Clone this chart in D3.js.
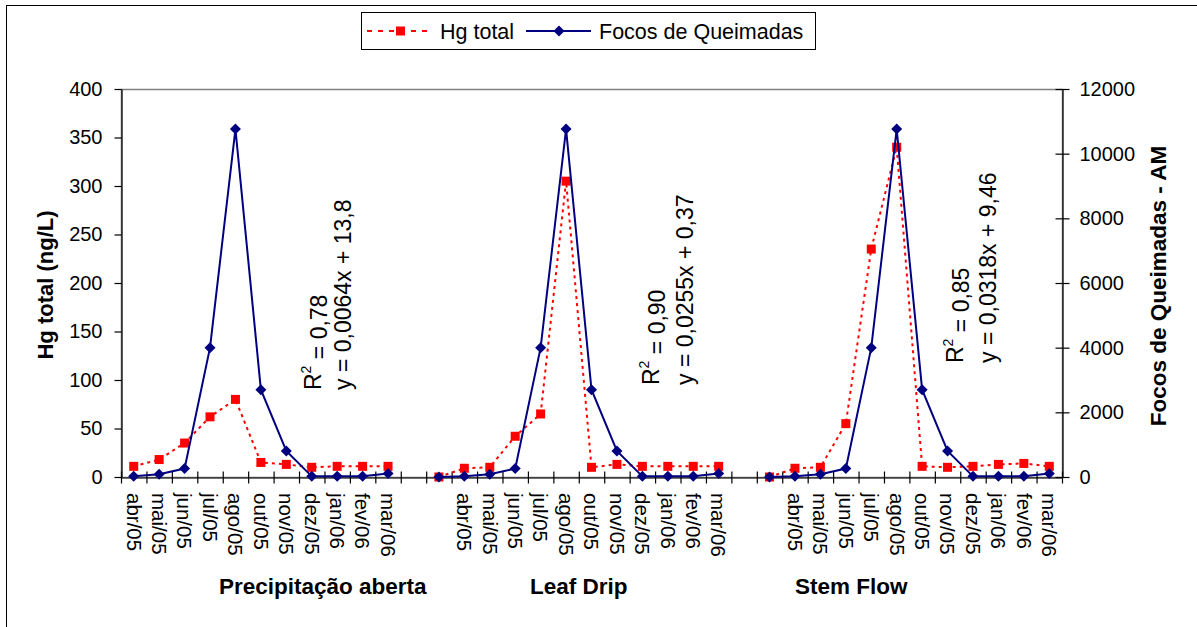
<!DOCTYPE html>
<html>
<head>
<meta charset="utf-8">
<script src="https://cdn.jsdelivr.net/npm/d3@7"></script>
<style>
  body { margin: 0; background: #fff; }
  svg text { font-family: "Liberation Sans", Arial, sans-serif; fill: #000; }
</style>
</head>
<body>
<div id="chart"></div>
<script>
// categories: three groups of months separated by blank slots
var months = ["abr/05","mai/05","jun/05","jul/05","ago/05","out/05","nov/05","dez/05","jan/06","fev/06","mar/06"];
var categories = months.concat(["", ""], months, ["", ""], months);

var groupNames = ["Precipitação aberta", "Leaf Drip", "Stem Flow"];

// Hg total (ng/L) - null = gap between groups
var hgTotal = [11, 18, 35, 62, 80, 15, 13, 10, 11, 11, 11,
  null, 0, 9, 10, 42, 65, 305, 10, 13, 11, 11, 11, 11,
  null, 0, 9, 10, 55, 235, 340, 11, 10, 11, 13, 14, 11];

// Focos de Queimadas - AM
var focos = [20, 85, 260, 4000, 10760, 2700, 805, 20, 20, 20, 105,
  null, 0, 20, 85, 260, 4000, 10760, 2700, 805, 20, 20, 20, 105,
  null, 0, 20, 85, 260, 4000, 10760, 2700, 805, 20, 20, 20, 105];

var leftTicks = [0, 50, 100, 150, 200, 250, 300, 350, 400];
var rightTicks = [0, 2000, 4000, 6000, 8000, 10000, 12000];

var trendR2 = ["0,78", "0,90", "0,85"];
var trendEq = ["y = 0,0064x + 13,8", "y = 0,0255x + 0,37", "y = 0,0318x + 9,46"];

var W = 1197, H = 627;
var plot = {left: 121, right: 1062, top: 89, bottom: 477};

var svg = d3.select("#chart").append("svg")
  .attr("width", W)
  .attr("height", H);

// outer chart border (continues past the right/bottom edge)
svg.append("rect")
  .attr("x", 6.5).attr("y", 5.5)
  .attr("width", 1300).attr("height", 800)
  .attr("fill", "none").attr("stroke", "#000");

var x = d3.scaleBand()
  .domain(d3.range(categories.length))
  .range([plot.left, plot.right])
  .padding(0);
var xEdge = d3.scaleLinear()
  .domain([0, categories.length])
  .range([plot.left, plot.right]);

var yL = d3.scaleLinear().domain([0, 400]).range([plot.bottom, plot.top]);
var yR = d3.scaleLinear().domain([0, 12000]).range([plot.bottom, plot.top]);

function cx(i) { return x(i) + x.bandwidth() / 2; }

// plot area frame (gray)
svg.append("rect")
  .attr("x", plot.left + 0.5).attr("y", plot.top + 0.5)
  .attr("width", plot.right - plot.left).attr("height", plot.bottom - plot.top)
  .attr("fill", "none").attr("stroke", "#808080").attr("stroke-width", 1.5);

// left axis
var gL = svg.append("g")
  .attr("transform", "translate(" + (plot.left + 0.5) + ",0)")
  .call(d3.axisLeft(yL).tickValues(leftTicks).tickSize(7).tickSizeOuter(0).tickPadding(12));
gL.selectAll("text").attr("font-size", 20).attr("font-family", null);

// right axis
var gR = svg.append("g")
  .attr("transform", "translate(" + (plot.right + 0.5) + ",0)")
  .call(d3.axisRight(yR).tickValues(rightTicks).tickFormat(d3.format("d")).tickSize(7).tickSizeOuter(0).tickPadding(10));
gR.selectAll(".tick line").attr("x1", -7);
gR.selectAll("text").attr("font-size", 20).attr("font-family", null);

// bottom axis: ticks between categories, crossing the line
var gB = svg.append("g")
  .attr("transform", "translate(0," + (plot.bottom + 0.5) + ")")
  .call(d3.axisBottom(xEdge).tickValues(d3.range(categories.length + 1)).tickFormat("").tickSize(6).tickSizeOuter(0));
gB.selectAll(".tick line").attr("y1", -6);

[gL, gR, gB].forEach(function(g) {
  g.selectAll("path, line").attr("stroke", "#000").attr("stroke-width", 1.2);
});

// category labels rotated
svg.append("g").selectAll("text")
  .data(categories)
  .enter().append("text")
  .attr("transform", function(d, i) { return "translate(" + cx(i) + ",493) rotate(90)"; })
  .attr("dy", "0.35em")
  .attr("font-size", 20.5)
  .text(function(d) { return d; });

// group names
var groupX = [219, 530, 795];
svg.append("g").selectAll("text")
  .data(groupNames)
  .enter().append("text")
  .attr("x", function(d, i) { return groupX[i]; })
  .attr("y", 594)
  .attr("font-size", 22.5)
  .attr("font-weight", "bold")
  .text(function(d) { return d; });

// axis titles
svg.append("text")
  .attr("transform", "translate(53,285) rotate(-90)")
  .attr("text-anchor", "middle")
  .attr("font-size", 22)
  .attr("font-weight", "bold")
  .text("Hg total (ng/L)");

svg.append("text")
  .attr("transform", "translate(1166,286) rotate(-90)")
  .attr("text-anchor", "middle")
  .attr("font-size", 22.5)
  .attr("font-weight", "bold")
  .text("Focos de Queimadas - AM");

// Hg total series (red dashed + squares)
var hgLine = d3.line()
  .defined(function(d) { return d != null; })
  .x(function(d, i) { return cx(i); })
  .y(function(d) { return yL(d); });

svg.append("path")
  .datum(hgTotal)
  .attr("d", hgLine)
  .attr("fill", "none")
  .attr("stroke", "#ff0000")
  .attr("stroke-width", 2)
  .attr("stroke-dasharray", "3,4");

var sq = 9;
svg.append("g").selectAll("rect")
  .data(hgTotal.map(function(v, i) { return {v: v, i: i}; }).filter(function(d) { return d.v != null; }))
  .enter().append("rect")
  .attr("x", function(d) { return cx(d.i) - sq / 2; })
  .attr("y", function(d) { return yL(d.v) - sq / 2; })
  .attr("width", sq).attr("height", sq)
  .attr("fill", "#ff0000");

// Focos series (navy solid + diamonds)
var focoLine = d3.line()
  .defined(function(d) { return d != null; })
  .x(function(d, i) { return cx(i); })
  .y(function(d) { return yR(d); });

svg.append("path")
  .datum(focos)
  .attr("d", focoLine)
  .attr("fill", "none")
  .attr("stroke", "#000080")
  .attr("stroke-width", 2);

var dm = 5.5;
function diamond(px, py) {
  return "M" + px + "," + (py - dm) + "L" + (px + dm) + "," + py + "L" + px + "," + (py + dm) + "L" + (px - dm) + "," + py + "Z";
}
svg.append("g").selectAll("path")
  .data(focos.map(function(v, i) { return {v: v, i: i}; }).filter(function(d) { return d.v != null; }))
  .enter().append("path")
  .attr("d", function(d) { return diamond(cx(d.i), yR(d.v)); })
  .attr("fill", "#000080");

// trendline labels (rotated)
var annR2 = [[320.5, 390], [659, 385], [963, 363]];
var annEq = [[351, 390], [693, 385], [996, 363]];
trendR2.forEach(function(r, i) {
  var t = svg.append("text")
    .attr("transform", "translate(" + annR2[i][0] + "," + annR2[i][1] + ") rotate(-90)")
    .attr("font-size", 23);
  t.append("tspan").text("R");
  t.append("tspan").attr("font-size", 14).attr("dy", "-0.7em").text("2");
  t.append("tspan").attr("dy", "0.7em").text(" = " + r);
  svg.append("text")
    .attr("transform", "translate(" + annEq[i][0] + "," + annEq[i][1] + ") rotate(-90)")
    .attr("font-size", 23)
    .text(trendEq[i]);
});

// legend
var lg = svg.append("g");
lg.append("rect")
  .attr("x", 361.5).attr("y", 12.5)
  .attr("width", 454).attr("height", 37)
  .attr("fill", "#fff").attr("stroke", "#000");
lg.append("line")
  .attr("x1", 367).attr("x2", 433).attr("y1", 31).attr("y2", 31)
  .attr("stroke", "#ff0000").attr("stroke-width", 2).attr("stroke-dasharray", "5,6");
lg.append("rect")
  .attr("x", 400.5 - sq / 2).attr("y", 31 - sq / 2)
  .attr("width", sq).attr("height", sq).attr("fill", "#ff0000");
lg.append("text").attr("x", 440).attr("y", 38.5).attr("font-size", 21.5).text("Hg total");
lg.append("line")
  .attr("x1", 526).attr("x2", 591).attr("y1", 31).attr("y2", 31)
  .attr("stroke", "#000080").attr("stroke-width", 2);
lg.append("path").attr("d", diamond(559, 31)).attr("fill", "#000080");
lg.append("text").attr("x", 599).attr("y", 38.5).attr("font-size", 21.5).text("Focos de Queimadas");
</script>
</body>
</html>
